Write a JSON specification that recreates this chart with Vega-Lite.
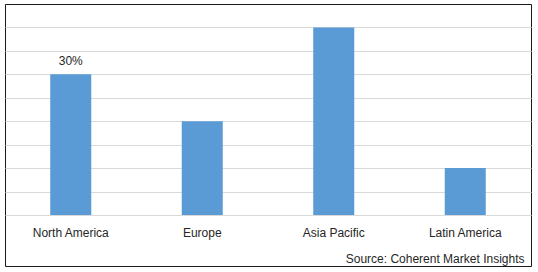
{
  "$schema": "https://vega.github.io/schema/vega-lite/v6.json",
  "autosize": "none",
  "width": 526,
  "height": 262,
  "padding": {"left": 5, "top": 4, "right": 7, "bottom": 6},
  "background": "white",
  "config": {
    "view": {"stroke": "#1a1a1a", "strokeWidth": 1},
    "font": "Liberation Sans"
  },
  "data": {
    "values": [
      {"region": "North America", "share": 30, "label": "30%"},
      {"region": "Europe", "share": 20, "label": ""},
      {"region": "Asia Pacific", "share": 40, "label": ""},
      {"region": "Latin America", "share": 10, "label": ""}
    ]
  },
  "encoding": {
    "x": {
      "field": "region",
      "type": "nominal",
      "sort": null,
      "scale": {"paddingInner": 0.688, "paddingOuter": 0.344},
      "axis": {
        "orient": "bottom",
        "offset": -51,
        "domain": false,
        "ticks": false,
        "tickSize": 0,
        "labelAngle": 0,
        "labelPadding": 12,
        "labelFont": "Liberation Sans",
        "labelFontSize": 12,
        "labelColor": "#262626",
        "title": "Source: Coherent Market Insights",
        "titleFont": "Liberation Sans",
        "titleFontSize": 12,
        "titleFontWeight": "normal",
        "titleColor": "#262626",
        "titleAlign": "right",
        "titleBaseline": "middle",
        "titleX": 519,
        "titleY": 43
      }
    },
    "y": {
      "field": "share",
      "type": "quantitative",
      "scale": {"domain": [0, 45], "range": [211, 0], "nice": false},
      "axis": {
        "title": null,
        "domain": false,
        "ticks": false,
        "labels": false,
        "grid": true,
        "gridColor": "#d9d9d9",
        "gridWidth": 1,
        "values": [0, 5, 10, 15, 20, 25, 30, 35, 40]
      }
    }
  },
  "layer": [
    {"mark": {"type": "bar", "color": "#5b9bd5"}},
    {
      "mark": {"type": "text", "dy": -13, "fontSize": 12, "color": "#262626", "font": "Liberation Sans"},
      "encoding": {"text": {"field": "label"}}
    }
  ]
}
